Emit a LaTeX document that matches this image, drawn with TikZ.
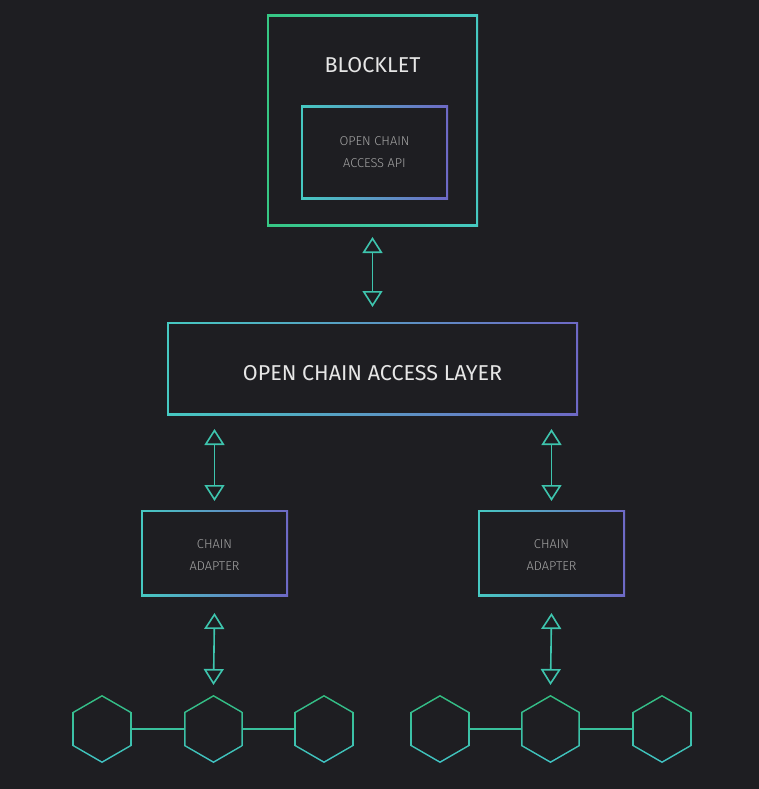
\documentclass[tikz,border=0pt]{standalone}
\usepackage{fontspec}
\setmainfont{Fira Sans Light}
\newfontfamily\bigff{Fira Sans}
\usetikzlibrary{arrows.meta,shapes.geometric}
\definecolor{bg}{HTML}{1E1E22}
\definecolor{cgreen}{HTML}{36C784}
\definecolor{cteal}{HTML}{46C9C2}
\definecolor{cpurple}{HTML}{6E69C6}
\definecolor{hgreen}{HTML}{33BE80}
\definecolor{hteal}{HTML}{42C4C6}
\definecolor{arrowc}{HTML}{3EC5AE}
\definecolor{bigtext}{HTML}{E6E6E6}
\definecolor{smalltext}{HTML}{A6A6A6}
\begin{document}
\begin{tikzpicture}[x=1pt,y=1pt,
  gbox/.style 2 args={inner sep=0pt, outer sep=0pt, path picture={
    \shade[left color=#1, right color=#2] (path picture bounding box.south west) rectangle (path picture bounding box.north east);
    \fill[bg] ([shift={(1.6,1.6)}]path picture bounding box.south west) rectangle ([shift={(-1.6,-1.6)}]path picture bounding box.north east);}},
  hexa/.style={regular polygon, regular polygon sides=6, shape border rotate=30, minimum size=68pt, inner sep=0pt, outer sep=0pt,
    path picture={
    \shade[top color=hgreen, bottom color=hteal] (path picture bounding box.south west) rectangle (path picture bounding box.north east);
    \fill[bg, shift={(path picture bounding box.center)}] (90:32.2) -- (150:32.2) -- (210:32.2) -- (270:32.2) -- (330:32.2) -- (30:32.2) -- cycle;}},
  arr/.style={draw=arrowc, line width=1.6pt, line join=round,
    {Triangle[open,length=16pt,width=20pt]}-{Triangle[open,length=16pt,width=20pt]}},
  hexlink/.style={draw=hgreen!60!hteal, line width=1.6pt},
  bigfont/.style={font=\bigff\fontsize{21.5}{24}\selectfont, text=bigtext},
  smallfont/.style={font=\fontsize{12.8}{22}\selectfont, text=smalltext, align=center},
]
\useasboundingbox[fill=bg] (0,0) rectangle (759,-789);

% boxes
\node[gbox={cgreen}{cteal}, minimum width=211pt, minimum height=211pt] (blocklet) at (372.5,-120.5) {};
\node[bigfont] (blockletlabel) at (372.5,-65) {BLOCKLET};
\node[gbox={cteal}{cpurple}, minimum width=147pt, minimum height=93pt] (api) at (374.5,-152.5) {};
\node[smallfont] (apilabel) at (374.5,-152.5) {OPEN CHAIN\\ACCESS API};
\node[gbox={cteal}{cpurple}, minimum width=411pt, minimum height=93pt] (layer) at (372.5,-368.5) {};
\node[bigfont] (layerlabel) at (372.5,-373) {OPEN CHAIN ACCESS LAYER};
\node[gbox={cteal}{cpurple}, minimum width=147pt, minimum height=86pt] (adapterL) at (214.5,-553) {};
\node[smallfont] (adapterLlabel) at (214.5,-555.5) {CHAIN\\ADAPTER};
\node[gbox={cteal}{cpurple}, minimum width=147pt, minimum height=86pt] (adapterR) at (551.5,-553) {};
\node[smallfont] (adapterRlabel) at (551.5,-555.5) {CHAIN\\ADAPTER};

% hexagons
\node[hexa] (L1) at (102,-729) {};
\node[hexa] (L2) at (213.5,-729) {};
\node[hexa] (L3) at (324,-729) {};
\node[hexa] (R1) at (440,-729) {};
\node[hexa] (R2) at (550.5,-729) {};
\node[hexa] (R3) at (662,-729) {};

\draw[hexlink] (L1.east) -- (L2.west);
\draw[hexlink] (L2.east) -- (L3.west);
\draw[hexlink] (R1.east) -- (R2.west);
\draw[hexlink] (R2.east) -- (R3.west);

% arrows
\coordinate (lsL) at (layer.south -| adapterL.north);
\coordinate (lsR) at (layer.south -| adapterR.north);
\draw[arr] ([yshift=-11pt]blocklet.south) -- ([yshift=15pt]layer.north);
\draw[arr] ([yshift=-14pt]lsL) -- ([yshift=9pt]adapterL.north);
\draw[arr] ([yshift=-14pt]lsR) -- ([yshift=9pt]adapterR.north);
\draw[arr] ([yshift=-17pt]adapterL.south) -- ([yshift=10pt]L2.north);
\draw[arr] ([yshift=-17pt]adapterR.south) -- ([yshift=10pt]R2.north);
\end{tikzpicture}
\end{document}
